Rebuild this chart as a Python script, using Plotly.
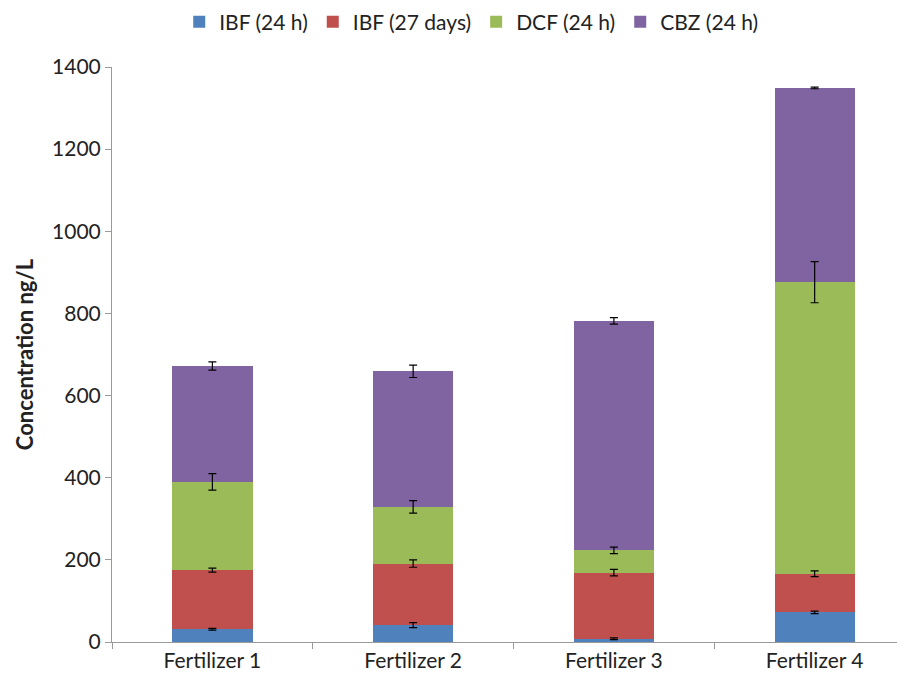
import plotly.graph_objects as go
import numpy as np

categories = ["Fertilizer 1", "Fertilizer 2", "Fertilizer 3", "Fertilizer 4"]
series_names = ["IBF (24 h)", "IBF (27 days)", "DCF (24 h)", "CBZ (24 h)"]
ibf_24h = [31, 41, 8, 72]
ibf_27d = [144, 150, 161, 94]
dcf_24h = [215, 138, 54, 710]
cbz_24h = [282, 330, 559, 473]
ibf_24h_err = [2, 6, 2, 3]
ibf_27d_err = [5, 9, 8, 7]
dcf_24h_err = [20, 15, 8, 50]
cbz_24h_err = [10, 15, 8, 2]
y_ticks = [0, 200, 400, 600, 800, 1000, 1200, 1400]

colors = ["#4F81BD", "#C0504D", "#9BBB59", "#8064A2"]
values = [ibf_24h, ibf_27d, dcf_24h, cbz_24h]
errors = [ibf_24h_err, ibf_27d_err, dcf_24h_err, cbz_24h_err]

fig = go.Figure()
for name, vals, col in zip(series_names, values, colors):
    fig.add_trace(go.Bar(
        x=categories, y=vals, name=name,
        marker=dict(color=col, line=dict(width=0)),
    ))

# error bars drawn on top of the stacked segments (at each segment's top)
cum = np.cumsum(np.array(values, dtype=float), axis=0)
for tops, errs in zip(cum, errors):
    fig.add_trace(go.Scatter(
        x=categories, y=tops, mode="markers", marker=dict(size=0.1, color="rgba(0,0,0,0)"),
        showlegend=False, hoverinfo="skip",
        error_y=dict(type="data", array=errs, visible=True,
                     color="black", thickness=1.2, width=4),
    ))

fig.update_layout(
    barmode="stack",
    bargap=0.6,
    width=897, height=665,
    margin=dict(l=104, r=0, t=59, b=31, autoexpand=False),
    plot_bgcolor="white", paper_bgcolor="white",
    font=dict(family="Lato, Open Sans, sans-serif", size=20, color="#222"),
    legend=dict(orientation="h", x=0.453, xanchor="center", y=1.078, yanchor="middle",
                font=dict(size=21), traceorder="normal", itemwidth=30,
                bgcolor="rgba(0,0,0,0)"),
    xaxis=dict(
        range=[-0.5, 3.45], showline=True, linecolor="#9a9a9a", linewidth=1,
        ticks="outside", ticklen=6, tickcolor="#9a9a9a", tickson="boundaries",
        showgrid=False, tickfont=dict(size=21),
    ),
    yaxis=dict(
        range=[0, 1400], tickvals=y_ticks, showline=True, linecolor="#9a9a9a",
        linewidth=1, ticks="outside", ticklen=6, tickcolor="#9a9a9a",
        showgrid=False, zeroline=False, tickfont=dict(size=21),
        title=dict(text="<b>Concentration ng/L</b>", font=dict(size=22), standoff=12),
    ),
)

fig.write_html("out.html")
